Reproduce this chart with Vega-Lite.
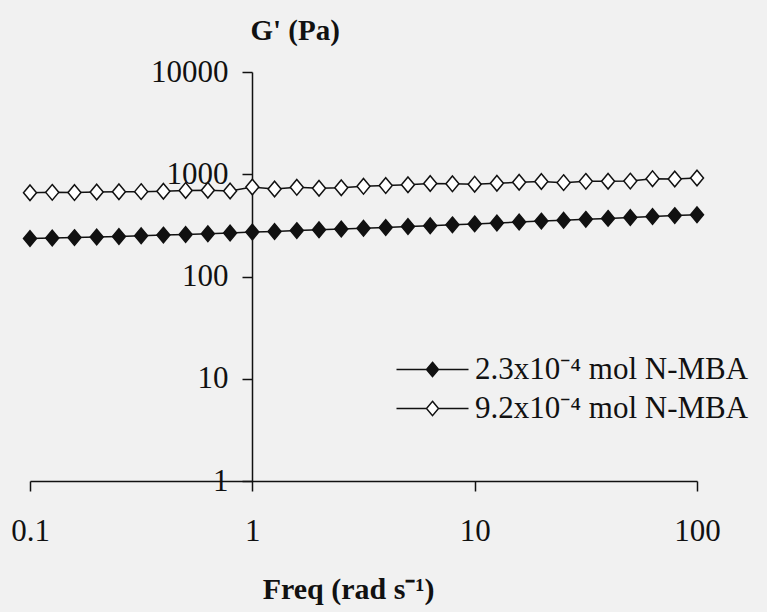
{
  "$schema": "https://vega.github.io/schema/vega-lite/v6.json",
  "autosize": "none",
  "width": 667,
  "height": 409,
  "padding": {"left": 30, "top": 72, "right": 70, "bottom": 131},
  "background": "#f1f1f1",
  "config": {
    "view": {"stroke": null},
    "font": "Liberation Serif",
    "axis": {"grid": false, "domainColor": "#111", "tickColor": "#111", "labelColor": "#111", "titleColor": "#111", "domainWidth": 1.5, "tickWidth": 1.5, "labelFont": "Liberation Serif", "titleFont": "Liberation Serif", "labelFontSize": 31, "titleFontSize": 30, "labelFontWeight": "normal", "titleFontWeight": "bold"}
  },
  "data": {"values": [
    {"freq": 0.1, "G": 235, "series": "2.3x10⁻⁴ mol N-MBA"},
    {"freq": 0.1259, "G": 238, "series": "2.3x10⁻⁴ mol N-MBA"},
    {"freq": 0.1585, "G": 240, "series": "2.3x10⁻⁴ mol N-MBA"},
    {"freq": 0.1995, "G": 243, "series": "2.3x10⁻⁴ mol N-MBA"},
    {"freq": 0.2512, "G": 246, "series": "2.3x10⁻⁴ mol N-MBA"},
    {"freq": 0.3162, "G": 250, "series": "2.3x10⁻⁴ mol N-MBA"},
    {"freq": 0.3981, "G": 254, "series": "2.3x10⁻⁴ mol N-MBA"},
    {"freq": 0.5012, "G": 258, "series": "2.3x10⁻⁴ mol N-MBA"},
    {"freq": 0.631, "G": 262, "series": "2.3x10⁻⁴ mol N-MBA"},
    {"freq": 0.7943, "G": 266, "series": "2.3x10⁻⁴ mol N-MBA"},
    {"freq": 1, "G": 272, "series": "2.3x10⁻⁴ mol N-MBA"},
    {"freq": 1.259, "G": 276, "series": "2.3x10⁻⁴ mol N-MBA"},
    {"freq": 1.585, "G": 281, "series": "2.3x10⁻⁴ mol N-MBA"},
    {"freq": 1.995, "G": 286, "series": "2.3x10⁻⁴ mol N-MBA"},
    {"freq": 2.512, "G": 291, "series": "2.3x10⁻⁴ mol N-MBA"},
    {"freq": 3.162, "G": 296, "series": "2.3x10⁻⁴ mol N-MBA"},
    {"freq": 3.981, "G": 302, "series": "2.3x10⁻⁴ mol N-MBA"},
    {"freq": 5.012, "G": 308, "series": "2.3x10⁻⁴ mol N-MBA"},
    {"freq": 6.31, "G": 314, "series": "2.3x10⁻⁴ mol N-MBA"},
    {"freq": 7.943, "G": 320, "series": "2.3x10⁻⁴ mol N-MBA"},
    {"freq": 10, "G": 327, "series": "2.3x10⁻⁴ mol N-MBA"},
    {"freq": 12.59, "G": 334, "series": "2.3x10⁻⁴ mol N-MBA"},
    {"freq": 15.85, "G": 341, "series": "2.3x10⁻⁴ mol N-MBA"},
    {"freq": 19.95, "G": 348, "series": "2.3x10⁻⁴ mol N-MBA"},
    {"freq": 25.12, "G": 355, "series": "2.3x10⁻⁴ mol N-MBA"},
    {"freq": 31.62, "G": 362, "series": "2.3x10⁻⁴ mol N-MBA"},
    {"freq": 39.81, "G": 370, "series": "2.3x10⁻⁴ mol N-MBA"},
    {"freq": 50.12, "G": 378, "series": "2.3x10⁻⁴ mol N-MBA"},
    {"freq": 63.1, "G": 386, "series": "2.3x10⁻⁴ mol N-MBA"},
    {"freq": 79.43, "G": 394, "series": "2.3x10⁻⁴ mol N-MBA"},
    {"freq": 100, "G": 402, "series": "2.3x10⁻⁴ mol N-MBA"},
    {"freq": 0.1, "G": 660, "series": "9.2x10⁻⁴ mol N-MBA"},
    {"freq": 0.1259, "G": 665, "series": "9.2x10⁻⁴ mol N-MBA"},
    {"freq": 0.1585, "G": 662, "series": "9.2x10⁻⁴ mol N-MBA"},
    {"freq": 0.1995, "G": 670, "series": "9.2x10⁻⁴ mol N-MBA"},
    {"freq": 0.2512, "G": 675, "series": "9.2x10⁻⁴ mol N-MBA"},
    {"freq": 0.3162, "G": 676, "series": "9.2x10⁻⁴ mol N-MBA"},
    {"freq": 0.3981, "G": 682, "series": "9.2x10⁻⁴ mol N-MBA"},
    {"freq": 0.5012, "G": 695, "series": "9.2x10⁻⁴ mol N-MBA"},
    {"freq": 0.631, "G": 697, "series": "9.2x10⁻⁴ mol N-MBA"},
    {"freq": 0.7943, "G": 685, "series": "9.2x10⁻⁴ mol N-MBA"},
    {"freq": 1, "G": 750, "series": "9.2x10⁻⁴ mol N-MBA"},
    {"freq": 1.259, "G": 718, "series": "9.2x10⁻⁴ mol N-MBA"},
    {"freq": 1.585, "G": 745, "series": "9.2x10⁻⁴ mol N-MBA"},
    {"freq": 1.995, "G": 730, "series": "9.2x10⁻⁴ mol N-MBA"},
    {"freq": 2.512, "G": 737, "series": "9.2x10⁻⁴ mol N-MBA"},
    {"freq": 3.162, "G": 762, "series": "9.2x10⁻⁴ mol N-MBA"},
    {"freq": 3.981, "G": 775, "series": "9.2x10⁻⁴ mol N-MBA"},
    {"freq": 5.012, "G": 790, "series": "9.2x10⁻⁴ mol N-MBA"},
    {"freq": 6.31, "G": 812, "series": "9.2x10⁻⁴ mol N-MBA"},
    {"freq": 7.943, "G": 806, "series": "9.2x10⁻⁴ mol N-MBA"},
    {"freq": 10, "G": 800, "series": "9.2x10⁻⁴ mol N-MBA"},
    {"freq": 12.59, "G": 816, "series": "9.2x10⁻⁴ mol N-MBA"},
    {"freq": 15.85, "G": 835, "series": "9.2x10⁻⁴ mol N-MBA"},
    {"freq": 19.95, "G": 850, "series": "9.2x10⁻⁴ mol N-MBA"},
    {"freq": 25.12, "G": 828, "series": "9.2x10⁻⁴ mol N-MBA"},
    {"freq": 31.62, "G": 852, "series": "9.2x10⁻⁴ mol N-MBA"},
    {"freq": 39.81, "G": 855, "series": "9.2x10⁻⁴ mol N-MBA"},
    {"freq": 50.12, "G": 857, "series": "9.2x10⁻⁴ mol N-MBA"},
    {"freq": 63.1, "G": 905, "series": "9.2x10⁻⁴ mol N-MBA"},
    {"freq": 79.43, "G": 898, "series": "9.2x10⁻⁴ mol N-MBA"},
    {"freq": 100, "G": 920, "series": "9.2x10⁻⁴ mol N-MBA"}
  ]},
  "encoding": {
    "x": {"field": "freq", "type": "quantitative",
      "scale": {"type": "log", "domain": [0.1, 100], "nice": false},
      "axis": {"title": "Freq (rad s⁻¹)", "values": [0.1, 1, 10, 100], "format": "~g", "tickSize": 10, "labelPadding": 25, "titlePadding": 28, "titleX": 318, "titleAlign": "center", "labelFlush": false, "labelOverlap": false}},
    "y": {"field": "G", "type": "quantitative",
      "scale": {"type": "log", "domain": [1, 10000], "nice": false},
      "axis": {"title": "G' (Pa)", "titleFontSize": 29, "values": [1, 10, 100, 1000, 10000], "format": "d", "offset": -222, "tickSize": 10, "labelPadding": 14, "titleAngle": 0, "titleAlign": "left", "titleBaseline": "middle", "titleX": -2, "titleY": -42, "labelFlush": false, "labelOverlap": false}}
  },
  "layer": [
    {"mark": {"type": "line", "color": "#111", "strokeWidth": 1.5},
     "encoding": {"detail": {"field": "series"}}},
    {"mark": {"type": "point", "filled": true, "shape": "M0,-1.2L1,0L0,1.2L-1,0Z", "size": 169, "stroke": "#111", "strokeWidth": 1.5, "opacity": 1},
     "encoding": {"fill": {"field": "series", "type": "nominal",
        "scale": {"domain": ["2.3x10⁻⁴ mol N-MBA", "9.2x10⁻⁴ mol N-MBA"], "range": ["#111", "#ffffff"]},
        "legend": {"title": null, "orient": "none", "legendX": 387, "legendY": 282,
          "symbolType": "M-6,0L-1,0M1,0L6,0M0,-1.2L1,0L0,1.2L-1,0Z", "symbolSize": 144,
          "symbolStrokeColor": "#111", "symbolStrokeWidth": 1.5, "symbolOpacity": 1,
          "labelFont": "Liberation Serif", "labelFontSize": 31, "labelColor": "#111",
          "labelOffset": 27, "rowPadding": 7, "padding": 0, "labelLimit": 400}}}}
  ]
}
